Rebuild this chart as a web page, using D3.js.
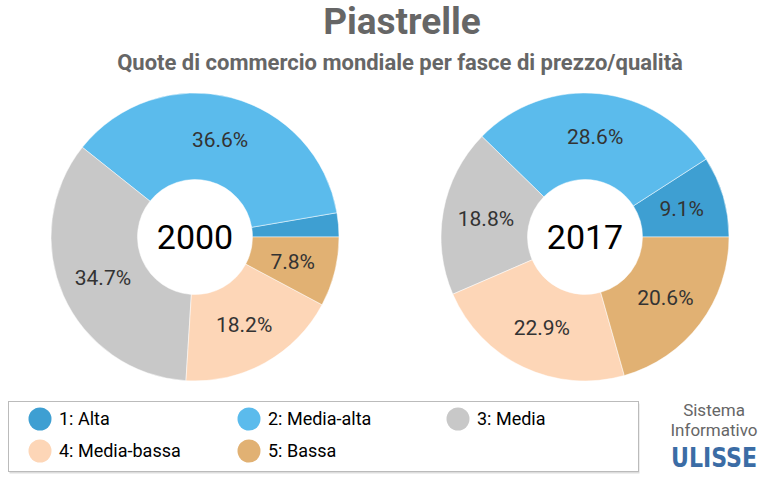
<!DOCTYPE html>
<html>
<head>
<meta charset="utf-8">
<script src="https://cdn.jsdelivr.net/npm/d3@7"></script>
<style>
  body { margin: 0; background: #fff; }
  svg { font-family: Roboto, "Open Sans", sans-serif; }
</style>
</head>
<body>
<svg id="chart" width="771" height="487"></svg>
<script>
// data
var categories = ["1: Alta", "2: Media-alta", "3: Media", "4: Media-bassa", "5: Bassa"];
var colors = ["#3e9fd2", "#5bbbec", "#c8c8c8", "#fdd6b7", "#e1b173"];
var years = ["2000", "2017"];
var values2000 = [2.7, 36.6, 34.7, 18.2, 7.8];
var values2017 = [9.1, 28.6, 18.8, 22.9, 20.6];

var svg = d3.select("#chart");

// titles
svg.append("text")
  .attr("x", 402).attr("y", 34)
  .attr("text-anchor", "middle")
  .style("font-size", "37px").style("font-weight", "bold")
  .attr("fill", "#666")
  .text("Piastrelle");

svg.append("text")
  .attr("x", 400).attr("y", 70)
  .attr("text-anchor", "middle")
  .style("font-size", "22px").style("font-weight", "bold")
  .attr("fill", "#666")
  .text("Quote di commercio mondiale per fasce di prezzo/qualità");

var color = d3.scaleOrdinal().domain(categories).range(colors);

var outerR = 144, innerR = 57.5;
var pie = d3.pie().sort(null)
  .startAngle(Math.PI / 2)
  .endAngle(Math.PI / 2 - 2 * Math.PI);
var arc = d3.arc().innerRadius(innerR).outerRadius(outerR);

function drawDonut(cx, cy, values, year) {
  var g = svg.append("g").attr("transform", `translate(${cx}, ${cy})`);
  var data = pie(values).map((d, i) => Object.assign(d, { cat: categories[i] }));

  g.selectAll("path")
    .data(data)
    .enter()
    .append("path")
    .attr("d", arc)
    .attr("fill", d => color(d.cat))
    .attr("stroke", "#fff")
    .attr("stroke-width", 0.5);

  // small slices get no label
  g.selectAll("text.lbl")
    .data(data.filter(d => d.value >= 5))
    .enter()
    .append("text")
    .attr("class", "lbl")
    .attr("transform", d => `translate(${arc.centroid(d)})`)
    .attr("text-anchor", "middle")
    .attr("dy", "0.35em")
    .style("font-size", "21px")
    .attr("fill", "#333")
    .text(d => d.value.toFixed(1) + "%");

  g.append("text")
    .attr("text-anchor", "middle")
    .attr("dy", "0.36em")
    .style("font-size", "34px")
    .attr("fill", "#000")
    .text(year);
}

drawDonut(195, 237, values2000, years[0]);
drawDonut(585, 237, values2017, years[1]);

// legend
var legend = svg.append("g");
legend.append("rect")
  .attr("x", 9.5).attr("y", 403.5)
  .attr("width", 630).attr("height", 70)
  .attr("fill", "#ddd");
legend.append("rect")
  .attr("x", 8.5).attr("y", 401.5)
  .attr("width", 630).attr("height", 70)
  .attr("fill", "#fff")
  .attr("stroke", "#bbb");

var items = legend.selectAll("g.item")
  .data(categories)
  .enter()
  .append("g")
  .attr("class", "item")
  .attr("transform", (d, i) => `translate(${40 + (i % 3) * 209}, ${419 + Math.floor(i / 3) * 32})`);

items.append("circle")
  .attr("r", 11.5)
  .attr("fill", d => color(d));

items.append("text")
  .attr("x", 19)
  .attr("dy", "0.35em")
  .style("font-size", "18px")
  .attr("fill", "#000")
  .text(d => d);

// logo
var logo = svg.append("g").attr("transform", "translate(714, 0)");
logo.append("text").attr("y", 416).attr("text-anchor", "middle")
  .style("font-size", "17px").attr("fill", "#666").text("Sistema");
logo.append("text").attr("y", 436).attr("text-anchor", "middle")
  .style("font-size", "17px").attr("fill", "#666").text("Informativo");
logo.append("text").attr("y", 467).attr("text-anchor", "middle")
  .attr("textLength", 86).attr("lengthAdjust", "spacingAndGlyphs")
  .style("font-size", "26px").style("font-weight", "bold")
  .style("font-family", "'DejaVu Sans Condensed', sans-serif")
  .attr("fill", "#3b6ca5").text("ULISSE");
</script>
</body>
</html>
